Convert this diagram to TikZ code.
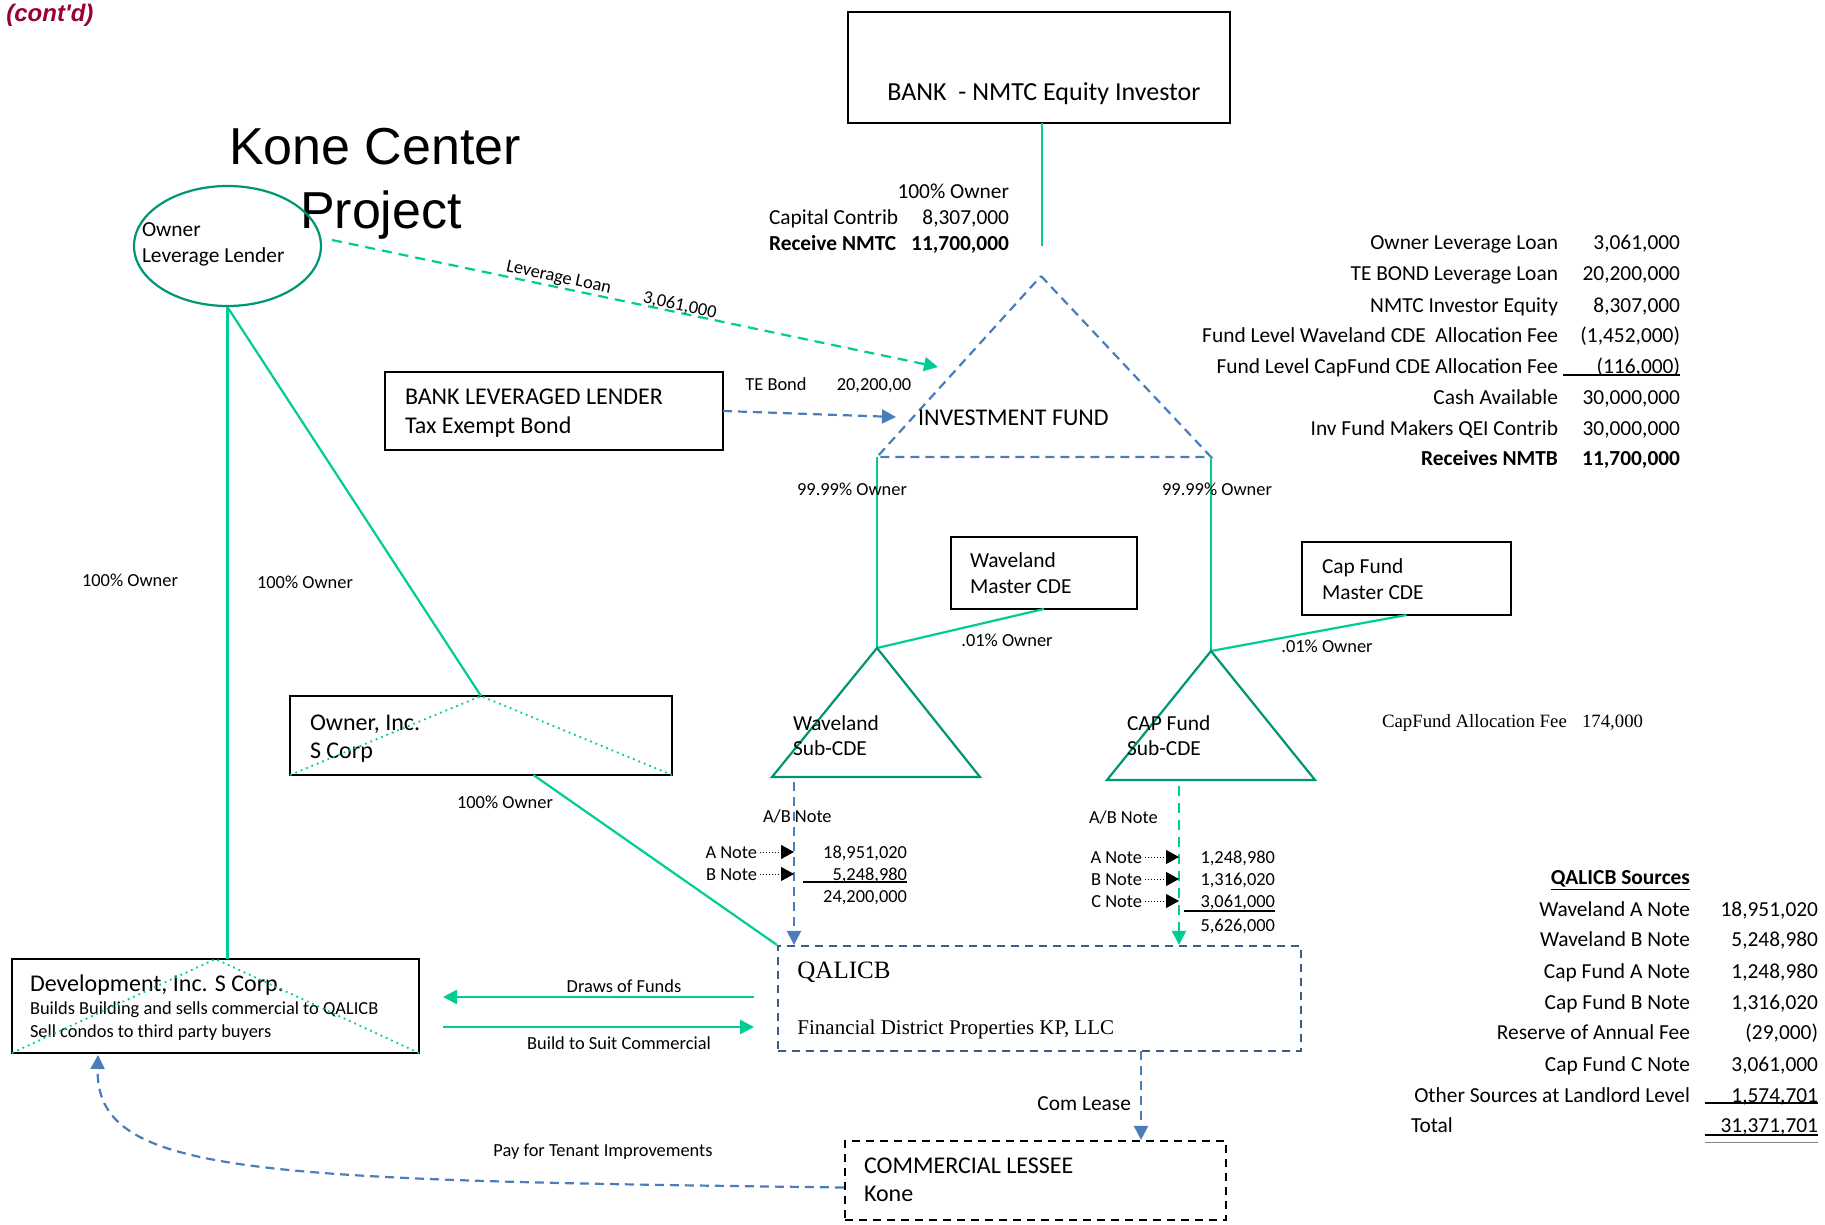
\documentclass[tikz,border=0pt]{standalone}
\usepackage{fontspec}
\setmainfont{Carlito}
\newfontfamily\arialf{Liberation Sans}
\newfontfamily\timesf{Liberation Serif}
\usetikzlibrary{arrows.meta,shapes.geometric}
\definecolor{mint}{RGB}{0,204,150}
\definecolor{dkteal}{RGB}{0,150,115}
\definecolor{fblue}{RGB}{74,126,187}
\definecolor{qblue}{RGB}{62,90,135}
\definecolor{contred}{RGB}{153,0,51}
\newcommand{\fn}{\fontsize{10.7pt}{13pt}\selectfont}
\newcommand{\fsm}{\fontsize{9.2pt}{11pt}\selectfont}
\newcommand{\fbx}{\fontsize{12pt}{14.5pt}\selectfont}
\begin{document}
\begin{tikzpicture}[x=0.5pt,y=-0.5pt,
  txt/.style={inner sep=0pt, outer sep=0pt, text height=9.6pt, text depth=1.5pt, font=\fn},
  sm/.style={inner sep=0pt, outer sep=0pt, text height=7.7pt, text depth=1.3pt, font=\fsm},
  bx/.style={inner sep=0pt, outer sep=0pt, text height=10.5pt, text depth=1.7pt, font=\fbx},
  ttl/.style={inner sep=0pt, outer sep=0pt, text height=18.5pt, text depth=3.5pt, font=\arialf\fontsize{26pt}{30pt}\selectfont},
  tms/.style={inner sep=0pt, outer sep=0pt, text height=7pt, text depth=1.5pt, font=\timesf\fontsize{9.4pt}{11pt}\selectfont},
  box/.style={draw=black, line width=1pt, inner sep=0pt, outer sep=0pt},
  gline/.style={draw=mint, line width=1.1pt},
  gdot/.style={draw=mint, line width=0.9pt, dotted},
  gdash/.style={draw=mint, line width=1.1pt, dash pattern=on 5pt off 3.5pt},
  bdash/.style={draw=fblue, line width=1.1pt, dash pattern=on 4.5pt off 3pt},
  arr/.style={-{Triangle[length=7pt,width=7pt]}},
  notearr/.style={draw=black, line width=0.5pt, densely dotted, -{Triangle[length=6.5pt,width=7pt]}},
  tri/.style={draw=dkteal, line width=1.1pt}
]
\fill[white] (0,0) rectangle (1825,1225);
\useasboundingbox (0,0) rectangle (1825,1225);

% header
\node[anchor=west, inner sep=0pt, text=contred, font=\arialf\bfseries\itshape\fontsize{12pt}{14pt}\selectfont] (contd) at (6,15) {(cont'd)};
\node[ttl] (title1) at (375,150) {Kone Center};
\node[ttl] (title2) at (381,214) {Project};

% Owner Leverage Lender
\node[ellipse, draw=dkteal, line width=1.1pt, minimum width=93.5pt, minimum height=60pt, inner sep=0pt] (oll) at (227.5,246) {};
\node[txt, anchor=west] (ollt1) at (142,228) {Owner};
\node[txt, anchor=west] (ollt2) at (142,254) {Leverage Lender};

% Bank NMTC equity investor
\node[box, minimum width=191pt, minimum height=55.5pt] (bank) at (1039,67.5) {};
\node[anchor=west, inner sep=0pt, text height=10.3pt, text depth=1.7pt, font=\fontsize{13pt}{15pt}\selectfont] (bankt) at (887,92) {BANK\ \ -\ NMTC Equity Investor};
\coordinate (bankE) at (1042,246);
\draw[gline] (bankE |- bank.south) -- (bankE);
\node[txt, anchor=east] (bo1) at (1009,190) {100\% Owner};
\node[txt, anchor=west] (bo2) at (769,216) {Capital Contrib};
\node[txt, anchor=east] (bo3) at (1009,216) {8,307,000};
\node[txt, anchor=west, font=\fn\bfseries] (bo4) at (769,242) {Receive NMTC};
\node[txt, anchor=east, font=\fn\bfseries] (bo5) at (1009,242) {11,700,000};

% Investment fund
\coordinate (fundT) at (1041,276);
\coordinate (fundL) at (877,457);
\coordinate (fundR) at (1211,457);
\draw[bdash] (fundT) -- (fundR) -- (fundL) -- cycle;
\node[bx, anchor=west] (fundt) at (918,417) {INVESTMENT FUND};

% Leverage loan
\coordinate (llS) at (332,240);
\coordinate (llE) at (938,367);
\draw[gdash, arr] (llS) -- (llE);
\node[sm, rotate=-12] (lll) at (559,276) {Leverage Loan};
\node[sm, rotate=-12] (lln) at (680,304) {3,061,000};

% Bank leveraged lender
\node[box, minimum width=169pt, minimum height=39pt] (bll) at (554,411) {};
\node[bx, anchor=west] (bllt1) at (405,396) {BANK LEVERAGED LENDER};
\node[bx, anchor=west] (bllt2) at (405,425) {Tax Exempt Bond};
\coordinate (teE) at (896,417);
\draw[bdash, arr] (bll.east) -- (teE);
\node[sm] (tel) at (776,384) {TE Bond};
\node[sm] (ten) at (874,384) {20,200,00};

% Right top table
\node[txt, anchor=east] (r1l) at (1558,241) {Owner Leverage Loan};
\node[txt, anchor=east] (r1n) at (1680,241) {3,061,000};
\node[txt, anchor=east] (r2l) at (1558,272) {TE BOND Leverage Loan};
\node[txt, anchor=east] (r2n) at (1680,272) {20,200,000};
\node[txt, anchor=east] (r3l) at (1558,304) {NMTC Investor Equity};
\node[txt, anchor=east] (r3n) at (1680,304) {8,307,000};
\node[txt, anchor=east] (r4l) at (1558,334) {Fund Level Waveland CDE\ \ Allocation Fee};
\node[txt, anchor=east] (r4n) at (1680,334) {(1,452,000)};
\node[txt, anchor=east] (r5l) at (1558,365) {Fund Level CapFund CDE Allocation Fee};
\node[txt, anchor=east] (r5n) at (1680,365) {(116,000)};
\node[txt, anchor=east] (r6l) at (1558,396) {Cash Available};
\node[txt, anchor=east] (r6n) at (1680,396) {30,000,000};
\node[txt, anchor=east] (r7l) at (1558,427) {Inv Fund Makers QEI Contrib};
\node[txt, anchor=east] (r7n) at (1680,427) {30,000,000};
\node[txt, anchor=east, font=\fn\bfseries] (r8l) at (1558,457) {Receives NMTB};
\node[txt, anchor=east, font=\fn\bfseries] (r8n) at (1680,457) {11,700,000};
\coordinate (u1a) at (1563,375);
\coordinate (u1b) at (1680,375);
\draw[black, line width=0.8pt] (u1a) -- (u1b);

% Fund to sub-CDEs
\coordinate (wT) at (877,648);
\coordinate (cT) at (1211,651);
\draw[gline] (fundL) -- (wT);
\draw[gline] (fundR) -- (cT);
\node[sm] (o9a) at (852,489) {99.99\% Owner};
\node[sm] (o9b) at (1217,489) {99.99\% Owner};

% Master CDEs
\node[box, minimum width=93pt, minimum height=36pt] (wm) at (1044,573) {};
\node[txt, anchor=west] (wmt1) at (970,559) {Waveland};
\node[txt, anchor=west] (wmt2) at (970,585) {Master CDE};
\node[box, minimum width=104.5pt, minimum height=36.5pt] (cm) at (1406.5,578.5) {};
\node[txt, anchor=west] (cmt1) at (1322,565) {Cap Fund};
\node[txt, anchor=west] (cmt2) at (1322,591) {Master CDE};
\draw[gline] (wm.south) -- (wT);
\draw[gline] (cm.south) -- (cT);
\node[sm] (o01a) at (1007,640) {.01\% Owner};
\node[sm] (o01b) at (1327,646) {.01\% Owner};

% Sub-CDE triangles
\coordinate (wBL) at (772,777);
\coordinate (wBR) at (980,777);
\coordinate (cBL) at (1107,780);
\coordinate (cBR) at (1315,780);
\draw[tri] (wT) -- (wBR) -- (wBL) -- cycle;
\draw[tri] (cT) -- (cBR) -- (cBL) -- cycle;
\node[txt, anchor=west] (wst1) at (793,722) {Waveland};
\node[txt, anchor=west] (wst2) at (793,747) {Sub-CDE};
\node[txt, anchor=west] (cst1) at (1127,722) {CAP Fund};
\node[txt, anchor=west] (cst2) at (1127,747) {Sub-CDE};
\node[tms, anchor=west] (caf1) at (1382,722) {CapFund Allocation Fee};
\node[tms, anchor=west] (caf2) at (1582,722) {174,000};

% QALICB
\node[draw=qblue, line width=1.1pt, dash pattern=on 4pt off 3pt, minimum width=261.5pt, minimum height=52.5pt, inner sep=0pt] (qal) at (1039.5,998.5) {};
\node[anchor=west, inner sep=0pt, text height=8.5pt, text depth=1.7pt, font=\timesf\fontsize{12.5pt}{15pt}\selectfont] (qalt1) at (797,972) {QALICB};
\node[anchor=west, inner sep=0pt, text height=7.5pt, text depth=1.5pt, font=\timesf\fontsize{10.5pt}{13pt}\selectfont] (qalt2) at (797,1028) {Financial District Properties KP, LLC};

% Waveland notes
\coordinate (wA) at (794,782);
\draw[bdash, arr] (wA) -- (wA |- qal.north);
\node[sm, anchor=west] (wab) at (763,816) {A/B Note};
\node[sm, anchor=east] (wan) at (757,852) {A Note};
\node[sm, anchor=east] (wbn) at (757,874) {B Note};
\coordinate (wanE) at (794,852);
\coordinate (wbnE) at (794,874);
\draw[notearr] ([xshift=1.5pt]wan.east) -- (wanE);
\draw[notearr] ([xshift=1.5pt]wbn.east) -- (wbnE);
\node[sm, anchor=east] (wv1) at (907,852) {18,951,020};
\node[sm, anchor=east] (wv2) at (907,874) {5,248,980};
\node[sm, anchor=east] (wv3) at (907,896) {24,200,000};
\coordinate (wu1) at (803,882);
\coordinate (wu2) at (907,882);
\draw[black, line width=0.6pt] (wu1) -- (wu2);

% CAP notes
\coordinate (cA) at (1179,786);
\draw[gdash, arr] (cA) -- (cA |- qal.north);
\node[sm, anchor=west] (cab) at (1089,817) {A/B Note};
\node[sm, anchor=east] (can) at (1142,857) {A Note};
\node[sm, anchor=east] (cbn) at (1142,879) {B Note};
\node[sm, anchor=east] (ccn) at (1142,901) {C Note};
\coordinate (canE) at (1179,857);
\coordinate (cbnE) at (1179,879);
\coordinate (ccnE) at (1179,901);
\draw[notearr] ([xshift=1.5pt]can.east) -- (canE);
\draw[notearr] ([xshift=1.5pt]cbn.east) -- (cbnE);
\draw[notearr] ([xshift=1.5pt]ccn.east) -- (ccnE);
\node[sm, anchor=east] (cv1) at (1275,857) {1,248,980};
\node[sm, anchor=east] (cv2) at (1275,879) {1,316,020};
\node[sm, anchor=east] (cv3) at (1275,901) {3,061,000};
\node[sm, anchor=east] (cv4) at (1275,925) {5,626,000};
\coordinate (cu1) at (1184,911);
\coordinate (cu2) at (1275,911);
\draw[black, line width=0.6pt] (cu1) -- (cu2);

% Owner, Inc.
\node[box, minimum width=191pt, minimum height=39.5pt] (oinc) at (481,735.5) {};
\node[bx, anchor=west] (oinct1) at (310,722) {Owner, Inc.};
\node[bx, anchor=west] (oinct2) at (310,750) {S Corp};
\draw[gdot] (oinc.south west) -- (oinc.north) -- (oinc.south east);
\draw[gline] (oll.south) -- (oinc.north);
\draw[gline] (oinc.-37) -- (qal.north west);
\node[sm] (o100c) at (505,802) {100\% Owner};

% Development, Inc.
\node[box, minimum width=203.5pt, minimum height=47pt] (dev) at (215.5,1006) {};
\node[bx, anchor=west] (devt1) at (30,983) {Development, Inc. S Corp.};
\node[sm, anchor=west] (devt2) at (30,1008) {Builds Building and sells commercial to QALICB};
\node[sm, anchor=west] (devt3) at (30,1031) {Sell condos to third party buyers};
\draw[gdot] (dev.south west) -- (dev.north) -- (dev.south east);
\draw[gline] (oll.south) -- (oll.south |- dev.north);
\node[sm] (o100a) at (130,580) {100\% Owner};
\node[sm] (o100b) at (305,582) {100\% Owner};

% Draws / Build arrows
\coordinate (dfS) at (754,997);
\coordinate (dfE) at (443,997);
\coordinate (bsS) at (443,1027);
\coordinate (bsE) at (754,1027);
\draw[gline, line width=1.3pt, arr] (dfS) -- (dfE);
\draw[gline, line width=1.3pt, arr] (bsS) -- (bsE);
\node[sm] (dfl) at (624,986) {Draws of Funds};
\node[sm] (bsl) at (619,1043) {Build to Suit Commercial};

% Commercial lessee
\node[draw=black, line width=1.1pt, dash pattern=on 4pt off 3pt, minimum width=190.5pt, minimum height=39.5pt, inner sep=0pt] (les) at (1035.5,1180.5) {};
\node[bx, anchor=west] (lest1) at (864,1165) {COMMERCIAL LESSEE};
\node[bx, anchor=west] (lest2) at (864,1193) {Kone};
\coordinate (clS) at (1141,1051);
\draw[bdash, arr] (clS) -- (clS |- les.north);
\node[txt, anchor=east] (cll) at (1131,1102) {Com Lease};

% Pay for tenant improvements
\coordinate (devB) at (98,1055);
\draw[bdash, arr] ([yshift=-3.5pt]les.west) .. controls (250,1180) and (95,1175) .. (devB);
\node[sm] (ptl) at (603,1150) {Pay for Tenant Improvements};

% QALICB Sources
\node[txt, anchor=east, font=\fn\bfseries] (qs0) at (1690,876) {\underline{QALICB Sources}};
\node[txt, anchor=east] (qs1l) at (1690,908) {Waveland A Note};
\node[txt, anchor=east] (qs1n) at (1818,908) {18,951,020};
\node[txt, anchor=east] (qs2l) at (1690,938) {Waveland B Note};
\node[txt, anchor=east] (qs2n) at (1818,938) {5,248,980};
\node[txt, anchor=east] (qs3l) at (1690,970) {Cap Fund A Note};
\node[txt, anchor=east] (qs3n) at (1818,970) {1,248,980};
\node[txt, anchor=east] (qs4l) at (1690,1001) {Cap Fund B Note};
\node[txt, anchor=east] (qs4n) at (1818,1001) {1,316,020};
\node[txt, anchor=east] (qs5l) at (1690,1031) {Reserve of Annual Fee};
\node[txt, anchor=east] (qs5n) at (1818,1031) {(29,000)};
\node[txt, anchor=east] (qs6l) at (1690,1063) {Cap Fund C Note};
\node[txt, anchor=east] (qs6n) at (1818,1063) {3,061,000};
\node[txt, anchor=east] (qs7l) at (1690,1094) {Other Sources at Landlord Level};
\node[txt, anchor=east] (qs7n) at (1818,1094) {1,574,701};
\node[txt, anchor=west] (qs8l) at (1411,1124) {Total};
\node[txt, anchor=east] (qs8n) at (1818,1124) {31,371,701};
\coordinate (qu1a) at (1705,1103);
\coordinate (qu1b) at (1818,1103);
\coordinate (qu2a) at (1705,1135);
\coordinate (qu2b) at (1818,1135);
\coordinate (qu3a) at (1705,1142);
\coordinate (qu3b) at (1818,1142);
\draw[black, line width=0.7pt] (qu1a) -- (qu1b);
\draw[black, line width=0.7pt] (qu2a) -- (qu2b);
\draw[gray, line width=0.5pt] (qu3a) -- (qu3b);
\end{tikzpicture}
\end{document}
